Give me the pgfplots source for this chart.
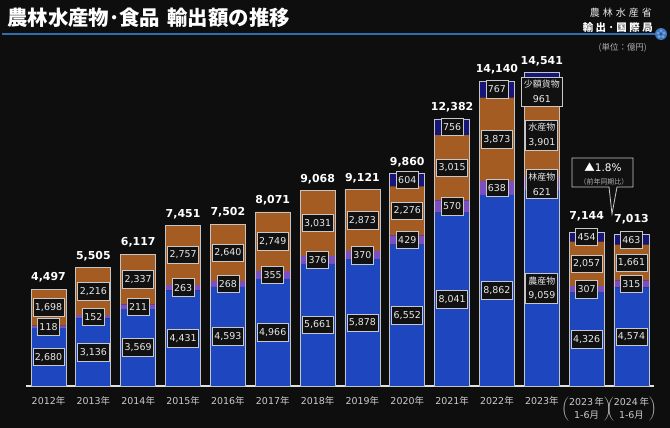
\documentclass[border=0pt]{standalone}
\usepackage{fontspec}
\setmainfont{DejaVu Sans}
\newfontfamily\cjk{Noto Sans CJK JP}
\usepackage{pgfplots}
\pgfplotsset{compat=1.18}
\usepackage{pgfplotstable}

\definecolor{bg}{HTML}{0E0E0E}
\definecolor{cagri}{HTML}{1E46BE}
\definecolor{cforest}{HTML}{7B4EC2}
\definecolor{cfish}{HTML}{A45C22}
\definecolor{csmall}{HTML}{16167A}
\definecolor{outl}{HTML}{C4C4C4}
\definecolor{axisgray}{HTML}{E0E0E0}
\definecolor{tickgray}{HTML}{CCCCCC}
\definecolor{boxfill}{HTML}{111111}
\definecolor{boxdraw}{HTML}{C8C8C8}
\definecolor{lbltext}{HTML}{E8E8E8}
\definecolor{lineblue}{HTML}{2F6EB0}
\definecolor{logoblue}{HTML}{3C78C2}
\definecolor{subgray}{HTML}{B0B0B0}

% small = 0 where the series did not exist yet (2012-2019)
\pgfplotstableread{
x agri forest fish small total
0 2680 118 1698 0 4497
1 3136 152 2216 0 5505
2 3569 211 2337 0 6117
3 4431 263 2757 0 7451
4 4593 268 2640 0 7502
5 4966 355 2749 0 8071
6 5661 376 3031 0 9068
7 5878 370 2873 0 9121
8 6552 429 2276 604 9860
9 8041 570 3015 756 12382
10 8862 638 3873 767 14140
11 9059 621 3901 961 14541
12 4326 307 2057 454 7144
13 4574 315 1661 463 7013
}\datatable

\newcommand\hlab[1]{$\left(\vcenter{\hbox{\fontsize{9.5}{13}\selectfont\begin{tabular}{@{}c@{}}#1\,{\cjk 年}\\1-6{\cjk 月}\end{tabular}}}\right)$}

\tikzset{
  lblbox/.style={anchor=center, fill=boxfill, draw=boxdraw, line width=0.7bp, text=lbltext,
    font=\fontsize{9.5}{11}\selectfont, inner xsep=2bp, inner ysep=0pt, minimum height=17.5bp},
}
\pgfplotsset{
  lbl/.style={draw=none, mark=none, nodes near coords, point meta=explicit,
    nodes near coords style={lblbox}},
  lbltwo/.style={draw=none, mark=none, point meta=explicit,
    x filter/.expression={x==11 ? x : nan},
    nodes near coords={{\cjk\fontsize{9}{15}\selectfont #1}\\\pgfmathprintnumber{\pgfplotspointmeta}},
    nodes near coords style={lblbox, align=center, font=\fontsize{9.5}{15}\selectfont, inner ysep=3bp, inner xsep=2.5bp}},
  commonax/.style={at={(26.1bp,42bp)}, anchor=south west, scale only axis,
    width=627.8bp, height=345.1bp, xmin=-0.5, xmax=13.5, ymin=0, ymax=16000, clip=false},
}

\begin{document}
\begin{tikzpicture}
\path[use as bounding box, fill=bg] (0,0) rectangle (670bp,428bp);

\begin{axis}[commonax,
  ybar stacked, bar width=35bp,
  axis x line*=bottom, axis y line=none,
  x axis line style={draw=axisgray, line width=1.2bp},
  xtick={0,...,13}, major tick length=0pt,
  xticklabels={2012{\cjk 年},2013{\cjk 年},2014{\cjk 年},2015{\cjk 年},2016{\cjk 年},2017{\cjk 年},2018{\cjk 年},2019{\cjk 年},2020{\cjk 年},2021{\cjk 年},2022{\cjk 年},2023{\cjk 年},{\hlab{2023}},{\hlab{2024}}},
  xticklabel style={font=\fontsize{9.5}{13}\selectfont, text=tickgray, anchor=north, inner sep=0pt, yshift=-10bp},
]
\addplot[fill=cagri, draw=none] table[x=x,y=agri]{\datatable};
\addplot[fill=cforest, draw=none] table[x=x,y=forest]{\datatable};
\addplot[fill=cfish, draw=none] table[x=x,y=fish]{\datatable};
\addplot[fill=csmall, draw=none] table[x=x,y=small]{\datatable};
\end{axis}

\begin{axis}[commonax, hide axis,
  /pgf/number format/1000 sep={,}, /pgf/number format/assume math mode=true]
\addplot[ybar, bar width=35bp, fill=none, draw=outl, line width=0.8bp] table[x=x,y=total]{\datatable};
% single-line value labels
\addplot[lbl, x filter/.expression={x==11 ? nan : x}] table[x=x, y expr=\thisrow{agri}/2, meta=agri]{\datatable};
\addplot[lbl, x filter/.expression={x==11 ? nan : x}] table[x=x, y expr=\thisrow{agri}+\thisrow{forest}/2, meta=forest]{\datatable};
\addplot[lbl, x filter/.expression={x==11 ? nan : x}] table[x=x, y expr=\thisrow{agri}+\thisrow{forest}+\thisrow{fish}/2, meta=fish]{\datatable};
\addplot[lbl, x filter/.expression={(x==11 || x<7.5) ? nan : x}] table[x=x, y expr=\thisrow{agri}+\thisrow{forest}+\thisrow{fish}+\thisrow{small}/2, meta=small]{\datatable};
% two-line labels for 2023
\addplot[lbltwo=農産物] table[x=x, y expr=\thisrow{agri}/2, meta=agri]{\datatable};
\addplot[lbltwo=林産物] table[x=x, y expr=\thisrow{agri}+\thisrow{forest}/2, meta=forest]{\datatable};
\addplot[lbltwo=水産物] table[x=x, y expr=\thisrow{agri}+\thisrow{forest}+\thisrow{fish}/2, meta=fish]{\datatable};
\addplot[lbltwo=少額貨物, nodes near coords style={yshift=-9bp}] table[x=x, y expr=\thisrow{agri}+\thisrow{forest}+\thisrow{fish}+\thisrow{small}/2, meta=small]{\datatable};
% totals
\addplot[draw=none, mark=none, nodes near coords, point meta=explicit,
  x filter/.expression={x>11.5 ? nan : x},
  nodes near coords style={anchor=south, inner sep=0pt, yshift=6.5bp, font=\bfseries\fontsize{11}{13}\selectfont, text=white}]
  table[x=x,y=total,meta=total]{\datatable};
\addplot[draw=none, mark=none, nodes near coords, point meta=explicit,
  x filter/.expression={x>11.5 ? x : nan},
  nodes near coords style={anchor=south, inner sep=0pt, yshift=10.5bp, font=\bfseries\fontsize{11}{13}\selectfont, text=white}]
  table[x=x,y=total,meta=total]{\datatable};
\end{axis}

\begin{scope}[x=1bp,y=1bp]
% title
\node[anchor=west, inner sep=0pt, text=white, font=\cjk\bfseries\fontsize{20.5}{24}\selectfont] at (7,410) {農林水産物･食品\hspace{7bp}輸出額の推移};
\draw[lineblue, line width=1.4bp] (2,394) -- (657,394);
% logo
\fill[logoblue] (661,394) circle (6);
\foreach \a in {0,72,144,216,288} \fill[logoblue!70!white] (661,394) ++(\a+90:3.2) circle (1.6);
\fill[logoblue!60!black] (661,394) circle (1.2);
% ministry
\node[anchor=east, inner sep=0pt, text=lbltext, font=\cjk\fontsize{10}{11}\selectfont] at (652,415) {農\kern3bp 林\kern3bp 水\kern3bp 産\kern3bp 省};
\node[anchor=east, inner sep=0pt, text=white, font=\cjk\bfseries\fontsize{10.5}{12}\selectfont] at (653,400.5) {輸\kern2.5bp 出\kern2.5bp ･\kern2.5bp 国\kern2.5bp 際\kern2.5bp 局};
\node[anchor=east, inner sep=0pt, text=subgray, font=\cjk\fontsize{8.5}{10}\selectfont] at (647,380) {(単位：億円)};
% callout
\draw[fill=boxfill, draw=boxdraw, line width=0.8bp] (572,241) -- (572,270) -- (633,270) -- (633,241) -- (617,241) -- (612,214) -- (609,241) -- cycle;
\node[inner sep=0pt, text=white, font=\fontsize{10.5}{12}\selectfont] at (603,261) {{\cjk ▲}1.8\%};
\node[inner sep=0pt, text=subgray, font=\cjk\fontsize{7}{9}\selectfont] at (604,246) {（前年同期比）};
\end{scope}
\end{tikzpicture}
\end{document}
